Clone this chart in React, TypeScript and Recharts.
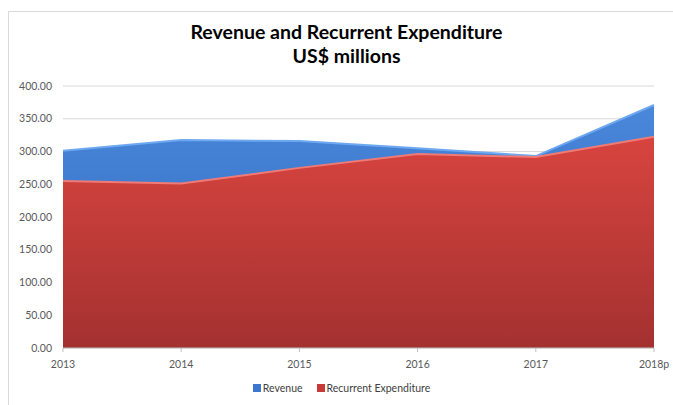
import React from 'react'
import { AreaChart, Area, XAxis, YAxis, CartesianGrid } from 'recharts'

// values (US$ millions)
const years = ['2013', '2014', '2015', '2016', '2017', '2018p']
const revenue = [301, 317.5, 316, 305, 293, 371]
const expenditure = [255, 251, 275, 296, 291.5, 322.5]
const yTicks = [0, 50, 100, 150, 200, 250, 300, 350, 400]

const rows = years.map((year, i) => ({ year, revenue: revenue[i], expenditure: expenditure[i] }))

const FONT = 'Lato, "Liberation Sans", sans-serif'
const TICK = { fontSize: 10.5, fill: '#595959', fontFamily: FONT }

function LegendKey({ color, label }: { color: string; label: string }) {
  return (
    <span style={{ display: 'inline-flex', alignItems: 'center', marginRight: 14 }}>
      <span style={{ width: 6, height: 6, background: color, border: '1px solid ' + color, marginRight: 2 }} />
      {label}
    </span>
  )
}

export default function App() {
  return (
    <div style={{ position: 'absolute', left: 0, top: 0, width: 673, height: 405, overflow: 'hidden', background: '#fff' }}>
      <div style={{ position: 'absolute', left: 8, top: 11, width: 700, height: 420, border: '1px solid #d9d9d9' }} />
      <div style={{ position: 'absolute', left: 10, width: 673, top: 20, textAlign: 'center', fontFamily: FONT, fontWeight: 700, fontSize: 19.5, lineHeight: '24px', color: '#000' }}>
        Revenue and Recurrent Expenditure
        <br />
        US$ millions
      </div>
      <div style={{ position: 'absolute', left: 0, top: 0 }}>
        <AreaChart width={673} height={405} data={rows} margin={{ top: 86, right: 19, left: 0, bottom: 37 }}>
          <defs>
            <linearGradient id="blueFill" x1="0" y1="0" x2="0" y2="1">
              <stop offset="0%" stopColor="#4a88dc" />
              <stop offset="100%" stopColor="#2c64b4" />
            </linearGradient>
            <linearGradient id="redFill" x1="0" y1="0" x2="0" y2="1">
              <stop offset="0%" stopColor="#d8443f" />
              <stop offset="100%" stopColor="#a33130" />
            </linearGradient>
          </defs>
          <CartesianGrid vertical={false} stroke="#d9d9d9" />
          <XAxis
            dataKey="year"
            height={20}
            tick={{ ...TICK, dy: 3 }}
            tickSize={4}
            tickMargin={6}
            stroke="#bfbfbf"
            interval={0}
          />
          <YAxis
            width={63}
            domain={[0, 400]}
            ticks={yTicks}
            tickFormatter={(v: number) => v.toFixed(2)}
            tick={TICK}
            tickLine={false}
            axisLine={false}
            tickMargin={5}
          />
          <Area
            type="linear"
            dataKey="revenue"
            name="Revenue"
            fill="url(#blueFill)"
            fillOpacity={1}
            stroke="#6da8f0"
            strokeWidth={2}
            isAnimationActive={false}
          />
          <Area
            type="linear"
            dataKey="expenditure"
            name="Recurrent Expenditure"
            fill="url(#redFill)"
            fillOpacity={1}
            stroke="#f07a76"
            strokeWidth={2}
            isAnimationActive={false}
          />
        </AreaChart>
      </div>
      <div style={{ position: 'absolute', left: 0, width: 673, top: 382, textAlign: 'center', fontFamily: FONT, fontSize: 10.5, color: '#404040', paddingLeft: 12 }}>
        <LegendKey color="#3a78d0" label="Revenue" />
        <LegendKey color="#c83a38" label="Recurrent Expenditure" />
      </div>
    </div>
  )
}
